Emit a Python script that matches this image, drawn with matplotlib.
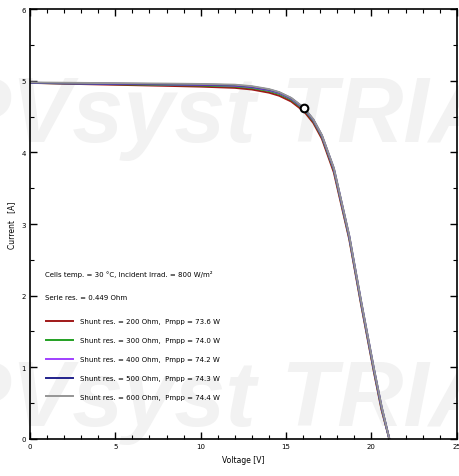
import matplotlib.pyplot as plt
from matplotlib.ticker import MultipleLocator

# I-V curves (600 Ohm is the one drawn on top)
voltage = [0, 2, 4, 6, 8, 10, 12, 13, 14, 14.6, 15.3, 16.06, 16.6, 17.1, 17.8, 18.7, 19.4, 20.15, 20.6, 21.05]
current_200 = [4.97, 4.958, 4.948, 4.938, 4.928, 4.917, 4.90, 4.877, 4.833, 4.79, 4.71, 4.57, 4.41, 4.19, 3.72, 2.79, 1.87, 0.93, 0.40, 0.0]
current_300 = [4.97, 4.962, 4.955, 4.948, 4.941, 4.933, 4.92, 4.898, 4.856, 4.815, 4.735, 4.595, 4.435, 4.215, 3.75, 2.81, 1.89, 0.95, 0.42, 0.0]
current_400 = [4.97, 4.964, 4.958, 4.953, 4.948, 4.942, 4.93, 4.909, 4.868, 4.828, 4.748, 4.608, 4.448, 4.228, 3.765, 2.825, 1.905, 0.965, 0.435, 0.0]
current_500 = [4.97, 4.965, 4.961, 4.956, 4.952, 4.947, 4.937, 4.916, 4.876, 4.836, 4.756, 4.616, 4.456, 4.236, 3.775, 2.835, 1.915, 0.975, 0.445, 0.0]
current_600 = [4.975, 4.971, 4.967, 4.963, 4.959, 4.954, 4.944, 4.923, 4.882, 4.84, 4.76, 4.62, 4.46, 4.24, 3.78, 2.84, 1.92, 0.98, 0.45, 0.0]

shunt = [200, 300, 400, 500, 600]
pmpp = [73.6, 74.0, 74.2, 74.3, 74.4]
colors = ['#a01818', '#22a022', '#a040ff', '#22228c', '#959595']
curves = [current_200, current_300, current_400, current_500, current_600]

mpp_v = [16.06]
mpp_i = [4.62]

fig = plt.figure(figsize=(4.6, 4.77), dpi=100)
ax = fig.add_axes([0.065, 0.0776, 0.928, 0.9014])

# trial watermark, behind the curves
for y in [0.752, 0.158]:
    ax.text(-0.109, y, 'PVsyst TRIAL', transform=fig.transFigure, fontsize=66,
            family='Liberation Sans', weight='bold', style='italic',
            color='#f2f2f2', va='center', ha='left', zorder=0.5, clip_on=False)

for c, cur, r, p in zip(colors, curves, shunt, pmpp):
    ax.plot(voltage, cur, color=c, lw=1.4, zorder=2,
            label=f'Shunt res. = {r} Ohm,  Pmpp = {p:.1f} W')

ax.plot(mpp_v, mpp_i, 'o', ms=5.5, mfc='white', mec='black', mew=1.5, zorder=3)

ax.set_xlim(0, 25)
ax.set_ylim(0, 6)
ax.xaxis.set_major_locator(MultipleLocator(5))
ax.xaxis.set_minor_locator(MultipleLocator(1))
ax.yaxis.set_major_locator(MultipleLocator(1))
ax.yaxis.set_minor_locator(MultipleLocator(0.5))
ax.tick_params(which='both', direction='in', top=True, right=True, labelsize=5, pad=3)
ax.tick_params(which='major', length=5, width=1)
ax.tick_params(which='minor', length=3, width=0.8)
for s in ax.spines.values():
    s.set_linewidth(1.2)
    s.set_zorder(4)

ax.set_xlabel('Voltage [V]', fontsize=5.5)
ax.set_ylabel('Current   [A]', fontsize=5.5)

ax.text(0.035, 0.385, 'Cells temp. = 30 °C, Incident Irrad. = 800 W/m²', transform=ax.transAxes,
        fontsize=5, va='center')
ax.text(0.035, 0.331, 'Serie res. = 0.449 Ohm', transform=ax.transAxes, fontsize=5, va='center')
leg = ax.legend(loc='upper left', bbox_to_anchor=(0.022, 0.295), frameon=False, fontsize=5,
                handlelength=4.0, labelspacing=1.85, handletextpad=0.9)
leg.set_zorder(5)

fig.savefig('out.png', dpi=100)
